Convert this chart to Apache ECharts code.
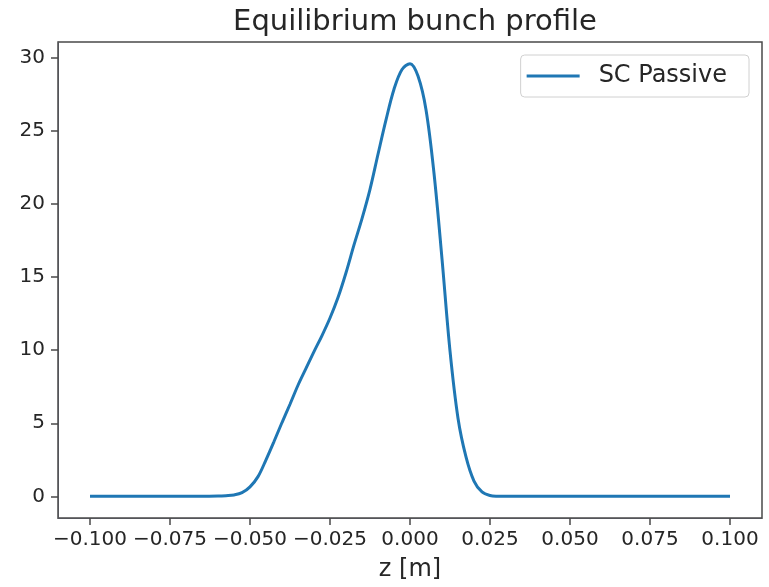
<!DOCTYPE html>
<html>
<head>
<meta charset="utf-8">
<script src="https://cdn.jsdelivr.net/npm/echarts@6/dist/echarts.min.js"></script>
<style>
  html, body { margin: 0; padding: 0; background: #fff; }
  #chart { width: 769px; height: 587px; background: #fff; }
</style>
</head>
<body>
<div id="chart"></div>
<script>
// Longitudinal position z [m] and the equilibrium line density at each position
const zPositions = [
  -0.100, -0.090, -0.080, -0.070, -0.065, -0.060, -0.0575, -0.055, -0.0525, -0.050,
  -0.0475, -0.045, -0.0425, -0.040, -0.0375, -0.035, -0.0325, -0.030, -0.0275, -0.025,
  -0.0225, -0.020, -0.0175, -0.015, -0.0125, -0.010, -0.0075, -0.005, -0.0025, 0.000,
  0.0025, 0.005, 0.0075, 0.010, 0.0125, 0.015, 0.0175, 0.020, 0.0225, 0.025,
  0.0275, 0.030, 0.040, 0.060, 0.080, 0.100
];
const scPassive = [
  0, 0, 0, 0, 0, 0.02, 0.05, 0.1, 0.25, 0.65,
  1.35, 2.5, 3.75, 5.05, 6.3, 7.6, 8.75, 9.9, 11.0, 12.2,
  13.6, 15.3, 17.2, 19.0, 21.0, 23.4, 25.75, 27.85, 29.2, 29.6,
  28.75, 26.45, 22.1, 16.25, 9.95, 5.35, 2.7, 1.05, 0.3, 0.06,
  0.01, 0, 0, 0, 0, 0
];

// Tick positions on both axes
const xTicks = [-0.100, -0.075, -0.050, -0.025, 0.000, 0.025, 0.050, 0.075, 0.100];
const yTicks = [0, 5, 10, 15, 20, 25, 30];

const seriesName = 'SC Passive';
const titleText = 'Equilibrium bunch profile';
const xAxisName = 'z [m]';

const font = 'DejaVu Sans';
const textColor = '#262626';
const frameColor = '#4a4a4a';

const points = zPositions.map((z, i) => [z, scPassive[i]]);

const chart = echarts.init(document.getElementById('chart'));

chart.setOption({
  animation: false,
  title: {
    text: titleText,
    left: 410,
    textAlign: 'center',
    top: 3,
    textStyle: { fontFamily: font, fontSize: 29, fontWeight: 'normal', color: textColor }
  },
  legend: {
    data: [seriesName],
    right: 20,
    top: 55,
    padding: [9, 22, 9, 6],
    backgroundColor: '#ffffff',
    borderColor: '#d0d0d0',
    borderWidth: 1,
    borderRadius: 4,
    icon: 'rect',
    itemWidth: 53,
    itemHeight: 3,
    textStyle: { fontFamily: font, fontSize: 24, color: textColor, padding: [0, 0, 0, 14] }
  },
  grid: {
    left: 58,
    right: 7,
    top: 42,
    bottom: 65,
    show: true,
    borderColor: frameColor,
    borderWidth: 1.5
  },
  xAxis: {
    type: 'value',
    min: -0.11,
    max: 0.11,
    name: xAxisName,
    nameLocation: 'middle',
    nameGap: 40,
    nameTextStyle: { fontFamily: font, fontSize: 24, color: textColor },
    axisLine: { show: true, onZero: false },
    splitLine: { show: false },
    axisTick: {
      show: true,
      length: 7,
      customValues: xTicks,
      lineStyle: { color: frameColor, width: 1.5 }
    },
    axisLabel: {
      customValues: xTicks,
      margin: 12,
      fontFamily: font,
      fontSize: 20,
      color: textColor,
      formatter: v => {
        const s = Math.abs(v).toFixed(3);
        return v < -1e-9 ? '\u2212' + s : s;
      }
    }
  },
  yAxis: {
    type: 'value',
    min: -1.48,
    max: 31.08,
    axisLine: { show: true, onZero: false },
    splitLine: { show: false },
    axisTick: {
      show: true,
      length: 7,
      customValues: yTicks,
      lineStyle: { color: frameColor, width: 1.5 }
    },
    axisLabel: {
      customValues: yTicks,
      margin: 13,
      fontFamily: font,
      fontSize: 20,
      color: textColor,
      formatter: v => String(Math.round(v))
    }
  },
  series: [{
    name: seriesName,
    type: 'line',
    data: points,
    showSymbol: false,
    smooth: 0.35,
    color: '#1f77b4',
    lineStyle: { color: '#1f77b4', width: 3 }
  }]
});
</script>
</body>
</html>
